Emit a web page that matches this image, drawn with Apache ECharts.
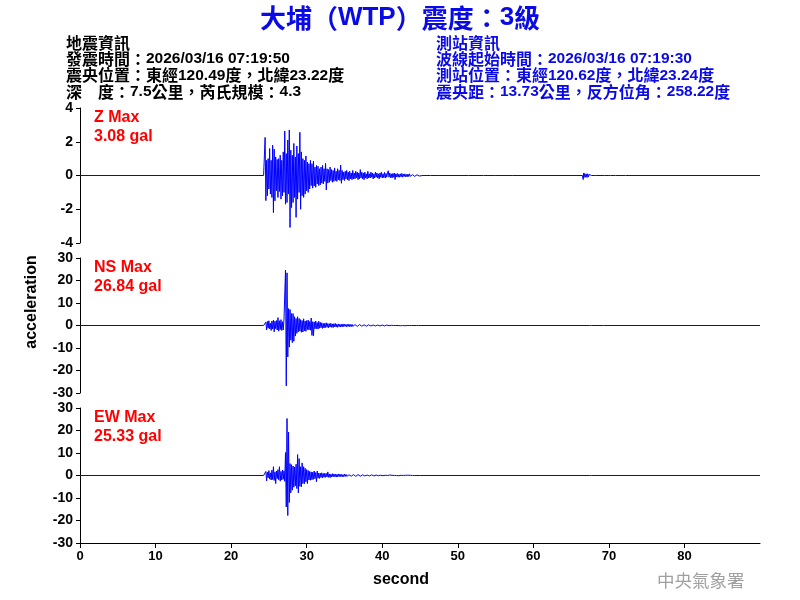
<!DOCTYPE html>
<html><head><meta charset="utf-8">
<script src="https://cdn.jsdelivr.net/npm/echarts@6/dist/echarts.min.js"></script>
<style>html,body{margin:0;padding:0;background:#fff}#c{width:800px;height:600px}</style>
</head><body><div id="c"></div>
<script>
// ---- data ----
const timeTicks = [0, 10, 20, 30, 40, 50, 60, 70, 80];
const timeMin = 0, timeMax = 90;
const zRange = [-4, 4, 2];
const hRange = [-30, 30, 10];
const coreStart = 24.4, coreStep = 0.1; // sampling of the strong-motion part
const zCore = [
  0, 2.26, -1.49, 0.9, -1.2, 1.0, -0.8, 1.6, -1.1, 0.9,
  -1.3, 1.8, -2.2, 1.57, -1.5, 1.1, -0.9, 0.95, -1.3, 1.0,
  -0.95, 1.2, -1.4, 0.9, -1.2, 1.4, -1.0, 2.64, -1.7, 1.3,
  -1.6, 2.1, -1.1, 2.7, -3.08, 1.5, -1.9, 1.2, -1.6, 1.9,
  -1.3, 1.1, -2.48, 1.75, -1.4, 1.3, -1.0, 2.56, -2.0, 1.4,
  -1.2, 1.0, -1.3, 0.9, -1.1, 1.16, -0.9, 0.8, -1.0, 0.7,
  -0.8, 0.9, -0.6, 0.7, -0.75, 0.86, -0.62, 0.5, -0.7, 0.6,
  -0.5, 0.55, -0.6, 0.4, -0.55, 0.5, -0.45, 0.6, -0.5, 0.4,
  -0.35, 0.72, -0.86, 0.4, -0.45, 0.35, -0.4, 0.5, -0.3, 0.35,
  -0.4, 0.3, -0.35, 0.45, -0.3, 0.25, -0.35, 0.4, -0.25, 0.3,
  -0.3, 0.62, -0.46, 0.3, -0.25, 0.2, -0.3, 0.25, -0.2, 0.3,
  -0.25, 0.2, -0.3, 0.25, -0.2, 0.15, -0.25, 0.3, -0.2, 0.15,
  -0.2, 0.25, -0.15, 0.2, -0.25, 0.15, -0.2, 0.35, -0.15, 0.2,
  -0.2, 0.15, -0.25, 0.2, -0.15, 0.1, -0.2, 0.25, -0.15, 0.1,
  -0.15, 0.2, -0.1, 0.15, -0.2, 0.1, -0.15, 0.2, -0.1, 0.15,
  -0.15, 0.1, -0.2, 0.15, -0.1, 0.2, -0.15, 0.1, -0.12, 0.18,
  -0.15, 0.12, -0.1, 0.15, 0.28, -0.1, 0.15, -0.12, 0.1, -0.15,
  0.12, -0.1, 0.15, -0.24, 0.1, -0.08, 0.12, -0.1, 0.08, -0.1,
  0.1, -0.08, 0.12, -0.1, 0.08, -0.06, 0.1, -0.08, 0.06, -0.08,
  0.08, -0.06, 0.1, -0.05, 0.06, -0.08, 0.05, -0.06, 0.08, -0.05,
  0.06, -0.05, 0.04, -0.06, 0.05, -0.03, 0
];
const nsCore = [
  0, 0, 1.5, -2.0, 1.8, -1.2, 2.1, -1.5, 1.0, -2.2,
  2.0, -1.6, 2.4, -2.8, 1.9, -1.4, 2.2, -2.0, 3.5, -2.5,
  2.1, -1.8, 2.6, -2.2, 1.7, -2.0, 2.9, 2.5, 24.6, -26.84,
  23.4, -14.0, 7.5, -9.6, 7.1, -6.5, 5.3, -7.6, 5.3, -7.0,
  3.9, -4.7, 3.1, -3.5, 3.9, -2.8, 3.1, -2.5, 2.6, -3.0,
  2.2, -2.9, 3.0, -2.4, 2.0, -2.6, 2.2, -1.8, 2.4, -2.0,
  1.8, -2.1, 3.3, -4.4, 1.7, -4.7, 1.6, -1.5, 2.0, -1.4,
  1.3, -1.6, 1.9, -1.2, 1.4, -1.0, 1.2, -1.3, 0.9, -1.1,
  1.0, -0.9, 1.2, -0.8, 0.9, -1.0, 0.8, -0.7, 1.0, -0.8,
  0.7, -0.9, 0.8, -0.6, 0.9, -0.7, 0.6, -0.8, 0.7, -0.5,
  0.6, -0.7, 0.5, -0.6, 0.7, -0.5, 0.6, -0.4, 0.5, -0.6,
  0.5, -0.4, 0.6, -0.5, 0.4, -0.5, 0.5, -0.4, 0.3, -0.5,
  0.4, -0.3, 0.5, -0.4, 0.3, -0.4, 0.4, -0.3, 0.5, -0.3,
  0.3, -0.4, 0.3, -0.2, 0.4, -0.3, 0.2, -0.3, 0.3, -0.2,
  0.3, -0.2, 0.2, -0.3, 0.2, -0.2, 0.3, -0.2, 0.2, -0.1,
  0.2, -0.2, 0.1, -0.2, 0.2, -0.1, 0.2, -0.1, 0.1, -0.2,
  0.1, -0.1, 0.2, -0.1, 0.1, -0.1, 0.1, -0.2, 0.1, -0.1,
  0.3, 0, -0.1, 0.1, 0, -0.1, 0.1, 0, 0.2, 0,
  -0.1, 0.1, 0, 0, 0.2, 0, -0.1, 0, 0.1, 0,
  0, 0.2, 0, -0.1, 0, 0, 0.1, 0, 0, 0,
  0, 0, 0, 0, 0, 0, 0
];
const ewCore = [
  0, 0, 1.8, -2.4, 1.5, -1.0, 2.2, -1.6, 1.2, -2.0,
  2.4, -1.8, 3.9, -2.2, 1.6, -3.6, 2.0, -1.4, 2.6, -1.9,
  3.9, -2.5, 1.8, -2.0, 2.4, -1.7, 2.1, -2.6, 10.2, -14.0,
  25.33, -17.8, 19.3, -12.0, 5.3, -7.7, 4.8, -6.5, 4.2, -5.2,
  3.8, -4.6, 5.0, -5.8, 9.3, -7.7, 7.5, -4.8, 3.9, -5.0,
  5.6, -3.6, 3.9, -3.7, 3.2, -2.8, 2.6, -3.6, 2.2, -2.0,
  1.8, -2.1, 1.6, -1.9, 1.5, -1.7, 2.0, -1.4, 1.3, -2.8,
  2.0, -1.2, 1.1, -1.3, 1.0, -0.9, 1.2, -1.0, 0.9, -0.8,
  1.0, -0.8, 0.9, -0.7, 1.6, -0.8, 0.7, -0.9, 0.6, -0.7,
  0.8, -0.6, 0.7, -0.5, 0.6, -0.7, 0.5, -0.6, 0.7, -0.5,
  0.6, -0.5, 0.5, -0.6, 0.4, -0.5, 0.6, -0.4, 0.5, -0.4,
  0.4, -0.5, 0.3, -0.4, 0.5, -0.3, 0.4, -0.3, 0.4, -0.3,
  0.3, -0.4, 0.3, -0.3, 0.4, -0.2, 0.3, -0.3, 0.2, -0.3,
  0.3, -0.2, 0.3, -0.2, 0.2, -0.3, 0.2, -0.2, 0.3, -0.2,
  0.2, -0.2, 0.3, -0.1, 0.2, -0.2, 0.1, -0.2, 0.2, -0.1,
  0.2, -0.1, 0.2, -0.2, 0.1, -0.1, 0.2, -0.1, 0.1, -0.2,
  0.1, -0.1, 0.2, 0, 0.1, -0.1, 0.2, 0, -0.1, 0.1,
  0, 0.2, 0, -0.1, 0.1, 0, 0.1, 0, -0.1, 0.1,
  0, 0.1, 0, 0.2, 0, -0.1, 0, 0.1, 0, 0,
  0.1, 0, 0, 0.1, 0, 0, 0, 0, 0, 0,
  0, 0, 0, 0, 0, 0, 0
];
const zTail = [
  [45.4,0],[45.5,0.1],[45.6,0],[46.4,0],[46.5,-0.08],[46.6,0],[47.5,0],[47.6,0.08],[47.7,0],
  [48.7,0],[48.8,-0.06],[48.9,0],[49.9,0],[50.0,0.07],[50.1,0],[51.4,0],[51.5,-0.06],[51.6,0],
  [53.4,0],[53.5,0.05],[53.6,0],[54.9,0],[55.0,-0.05],[55.1,0],[57.2,0],[57.3,0.04],[57.4,0],
  [66.5,0],[66.6,-0.24],[66.65,0.14],[66.7,-0.12],[66.8,0.12],[66.9,-0.1],[67.0,0.1],[67.1,-0.12],
  [67.2,0.1],[67.3,-0.08],[67.4,0.06],[67.5,0],[67.7,0],[67.8,-0.07],[67.9,0],[68.2,0],[68.3,0.06],
  [68.4,0],[69.4,0],[69.5,-0.05],[69.6,0],[69.9,0],[70.0,0.06],[70.1,-0.05],[70.2,0],[70.9,0],
  [71.0,0.04],[71.1,0],[72.2,0],[72.3,-0.04],[72.4,0]
];
const nsTail = [[67.4,0],[67.5,0.5],[67.6,-0.3],[67.7,0],[69.3,0],[69.4,0.4],[69.5,0]];
const ewTail = [[67.4,0],[67.5,0.4],[67.6,-0.3],[67.7,0],[69.1,0],[69.2,0.3],[69.3,0]];
const panelNames = ['Z Max', 'NS Max', 'EW Max'];
const panelPeaks = ['3.08 gal', '26.84 gal', '25.33 gal'];
const titleText = '大埔（WTP）震度：3級';
const quakeInfo = ['地震資訊', '發震時間：2026/03/16 07:19:50', '震央位置：東經120.49度，北緯23.22度', '深\u3000度：7.5公里，芮氏規模：4.3'];
const stationInfo = ['測站資訊', '波線起始時間：2026/03/16 07:19:30', '測站位置：東經120.62度，北緯23.24度', '震央距：13.73公里，反方位角：258.22度'];
const xName = 'second', yName = 'acceleration', credit = '中央氣象署';

// ---- build ----
function buildTrace(core, tail) {
  const d = [[timeMin, 0], [coreStart - coreStep, 0]];
  core.forEach((v, i) => d.push([+(coreStart + i * coreStep).toFixed(3), v]));
  tail.forEach(p => d.push(p));
  d.push([timeMax, 0]);
  return d;
}
const traces = [buildTrace(zCore, zTail), buildTrace(nsCore, nsTail), buildTrace(ewCore, ewTail)];

// split text into CJK runs and Latin runs for mixed font sizes
function richify(s) {
  return s.split(/([\u3000-\u9fff\uff00-\uffef]+)/).filter(p => p.length)
    .map(p => /[\u3000-\u9fff\uff00-\uffef]/.test(p) ? '{c|' + p + '}' : '{a|' + p + '}').join('');
}
function richStyles(color, cjkSize, latSize, cjkWeight) {
  return {
    c: {fill: color, fontSize: cjkSize, fontWeight: cjkWeight, fontFamily: '"Noto Sans CJK TC", sans-serif', lineHeight: 18},
    a: {fill: color, fontSize: latSize, fontWeight: 'bold', fontFamily: '"Liberation Sans", Arial, sans-serif', lineHeight: 18}
  };
}

const FONT = '"Liberation Sans", Arial, sans-serif';
const tops = [108, 258, 408];
const H = 135;
const chart = echarts.init(document.getElementById('c'), null, {renderer: 'canvas'});

const grids = tops.map(t => ({left: 80, top: t, width: 680, height: H, containLabel: false}));
const xAxes = tops.map((t, i) => {
  const last = i === 2;
  return {
    gridIndex: i, type: 'value', min: timeMin, max: timeMax,
    axisLine: {show: last, onZero: false, lineStyle: {color: '#000', width: 1}},
    axisTick: {show: last, length: 5, customValues: timeTicks, lineStyle: {color: '#000'}},
    axisLabel: {show: last, customValues: timeTicks, margin: 7, color: '#000', fontSize: 13, fontWeight: 'bold', fontFamily: FONT},
    splitLine: {show: false}
  };
});
const ranges = [zRange, hRange, hRange];
const yAxes = ranges.map((r, i) => ({
  gridIndex: i, type: 'value', min: r[0], max: r[1], interval: r[2],
  axisLine: {show: true, onZero: false, lineStyle: {color: '#000', width: 1}},
  axisTick: {show: true, length: 4, lineStyle: {color: '#000'}},
  axisLabel: {show: true, margin: 7, color: '#000', fontSize: 14, fontWeight: 'bold', fontFamily: FONT, showMinLabel: true, showMaxLabel: true},
  splitLine: {show: false}
}));
const series = traces.map((d, i) => ({
  type: 'line', xAxisIndex: i, yAxisIndex: i, data: d, symbol: 'none', showSymbol: false,
  lineStyle: {color: '#0000ff', width: 1}, animation: false, silent: true, clip: true
}));

const graphic = [];
graphic.push({type: 'text', x: 400, y: 18, style: {text: richify(titleText), align: 'center', verticalAlign: 'middle', rich: richStyles('#0a0ae6', 26, 26, 'bold')}});
quakeInfo.forEach((s, k) => graphic.push({type: 'text', x: 66, y: 43 + k * 16.2, style: {text: richify(s), verticalAlign: 'middle', rich: richStyles('#000', 16, 15.5, 'bold')}}));
stationInfo.forEach((s, k) => graphic.push({type: 'text', x: 436, y: 43 + k * 16.2, style: {text: richify(s), verticalAlign: 'middle', rich: richStyles('#0a0ae6', 16, 15.5, 'bold')}}));
tops.forEach((t, i) => {
  graphic.push({type: 'text', x: 94, y: t + 10, style: {text: panelNames[i], fill: '#ff0000', verticalAlign: 'middle', font: 'bold 16px "Liberation Sans", sans-serif'}});
  graphic.push({type: 'text', x: 94, y: t + 29, style: {text: panelPeaks[i], fill: '#ff0000', verticalAlign: 'middle', font: 'bold 16px "Liberation Sans", sans-serif'}});
});
graphic.push({type: 'text', x: 32, y: 302, rotation: Math.PI / 2, style: {text: yName, fill: '#000', align: 'center', verticalAlign: 'middle', font: 'bold 16px "Liberation Sans", sans-serif'}});
graphic.push({type: 'text', x: 401, y: 580, style: {text: xName, fill: '#000', align: 'center', verticalAlign: 'middle', font: 'bold 16px "Liberation Sans", sans-serif'}});
graphic.push({type: 'text', x: 657, y: 580, style: {text: credit, fill: '#a0a0a0', verticalAlign: 'middle', font: '17.5px "Noto Sans CJK TC", sans-serif'}});

chart.setOption({
  animation: false,
  backgroundColor: '#fff',
  grid: grids, xAxis: xAxes, yAxis: yAxes, series: series, graphic: graphic
});
</script></body></html>
